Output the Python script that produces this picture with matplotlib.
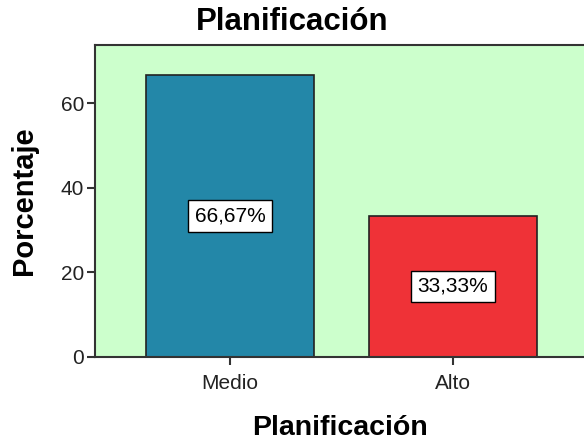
import numpy as np
import matplotlib
matplotlib.use("Agg")
import matplotlib.pyplot as plt

categorias = ["Medio", "Alto"]
porcentajes = [66.67, 33.33]
etiquetas = ["66,67%", "33,33%"]
colores = ["#2387a8", "#ef3237"]
yticks = [0, 20, 40, 60]

plt.rcParams['font.family'] = ['Liberation Sans', 'DejaVu Sans']

fig = plt.figure(figsize=(5.84, 4.44), dpi=100)
ax = fig.add_axes([0.1627, 0.196, 0.8373, 0.7026])
ax.set_facecolor("#ccffcc")

x = np.arange(len(categorias))
ax.bar(x, porcentajes, width=0.75, color=colores, edgecolor="#222222", linewidth=1.2, zorder=2)

for xi, v, t in zip(x, porcentajes, etiquetas):
    ax.text(xi, v / 2, t, ha="center", va="center", fontsize=15, zorder=3,
            bbox=dict(boxstyle="square,pad=0.3", facecolor="white", edgecolor="black", linewidth=1))

ax.set_xlim(-0.605, 1.587)
ax.set_ylim(0, 73.7)
ax.set_xticks(x)
ax.set_xticklabels(categorias, fontsize=15, color="#222222")
ax.set_yticks(yticks)
ax.set_yticklabels([str(v) for v in yticks], fontsize=15, color="#222222")
ax.tick_params(axis="both", direction="out", length=6, width=1.5, color="#333333", pad=2)
ax.tick_params(axis="x", pad=6)

for s in ["left", "top", "bottom"]:
    ax.spines[s].set_linewidth(1.5)
    ax.spines[s].set_color("#333333")
ax.spines["right"].set_visible(False)

fig.suptitle("Planificación", fontsize=22.5, fontweight="bold", x=0.5, y=0.985)
ax.set_xlabel("Planificación", fontsize=20.5, fontweight="bold", labelpad=16)
ax.set_ylabel("Porcentaje", fontsize=21, fontweight="bold", labelpad=16)

fig.savefig("out.png", dpi=100)
